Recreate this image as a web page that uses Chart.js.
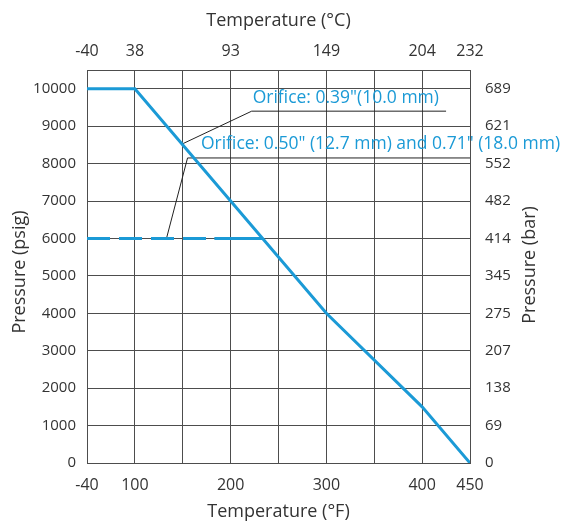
<!DOCTYPE html>
<html>
<head>
<meta charset="utf-8">
<script src="https://cdn.jsdelivr.net/npm/chart.js@4.4.1/dist/chart.umd.min.js"></script>
<style>
  html, body { margin: 0; padding: 0; background: #fff; }
  #wrap { width: 562px; height: 522px; }
</style>
</head>
<body>
<div id="wrap"><canvas id="ratingChart" width="562" height="522"></canvas></div>
<script>
// ===========================
// Pressure / temperature rating chart
// ===========================

// grid columns of the temperature axis (°F), unevenly spaced in value
const gridF = [-40, 100, 150, 200, 250, 300, 350, 400, 450];
const labelsF = ['-40', '100', '', '200', '', '300', '', '400', '450'];
const labelsC = ['-40', '38', '', '93', '', '149', '', '204', '232'];

// pressure ticks (psig) and matching bar labels
const psiTicks = [0, 1000, 2000, 3000, 4000, 5000, 6000, 7000, 8000, 9000, 10000];
const barLabels = ['0', '69', '138', '207', '275', '345', '414', '482', '552', '621', '689'];

// Orifice 0.39" rating line
const smallTempF = [-40, 100, 200, 300, 400, 450];
const smallPsi = [10000, 10000, 7000, 4000, 1500, 0];

// Orifice 0.50" / 0.71" rating line (dashed part then solid)
const largeTempF = [-40, 183, 233];
const largePsi = [6000, 6000, 6000];

// leader lines for the two notes
const leader1TempF = [150, 222, 425];
const leader1Psi = [8530, 9400, 9400];
const leader2TempF = [133, 155, 450];
const leader2Psi = [6000, 8150, 8150];

// note texts
const noteText = ['Orifice: 0.39"(10.0 mm)', 'Orifice: 0.50" (12.7 mm) and 0.71" (18.0 mm)'];
const noteTempF = [223, 169];
const notePsi = [9740, 8510];

const BLUE = '#1b9ad6';
const TEXT = '#333333';
const GRID = '#4d4d4d';
const FONT = '"Open Sans", "Noto Sans", sans-serif';

// map °F onto the evenly spaced grid columns
function toCol(f) {
    for (let i = 0; i < gridF.length - 1; i++) {
        if (f <= gridF[i + 1]) {
            return i + (f - gridF[i]) / (gridF[i + 1] - gridF[i]);
        }
    }
    return gridF.length - 1;
}

function points(temps, vals) {
    return temps.map((f, i) => ({ x: toCol(f), y: vals[i] }));
}

function sideTitle(ctx, text, x, y) {
    ctx.save();
    ctx.fillStyle = TEXT;
    ctx.font = '18px ' + FONT;
    ctx.textAlign = 'center';
    ctx.textBaseline = 'middle';
    ctx.translate(x, y);
    ctx.rotate(-Math.PI / 2);
    ctx.fillText(text, 0, 0);
    ctx.restore();
}

const notesPlugin = {
    id: 'notes',
    afterDatasetsDraw(chart) {
        const ctx = chart.ctx;
        const xs = chart.scales.x;
        const ys = chart.scales.y;
        ctx.save();
        ctx.fillStyle = BLUE;
        ctx.font = '17.5px ' + FONT;
        ctx.textAlign = 'left';
        ctx.textBaseline = 'middle';
        noteText.forEach((t, i) => {
            ctx.fillText(t, xs.getPixelForValue(toCol(noteTempF[i])), ys.getPixelForValue(notePsi[i]));
        });
        ctx.restore();

        // side titles, both reading upwards
        sideTitle(ctx, 'Pressure (psig)', 20, 272);
        sideTitle(ctx, 'Pressure (bar)', 530, 265);
    }
};

const ctx = document.getElementById('ratingChart').getContext('2d');

new Chart(ctx, {
    type: 'line',
    data: {
        datasets: [
            {
                data: points(smallTempF, smallPsi),
                borderColor: BLUE,
                borderWidth: 3,
                pointRadius: 0,
                tension: 0
            },
            {
                data: points(largeTempF, largePsi),
                borderColor: BLUE,
                borderWidth: 3,
                pointRadius: 0,
                tension: 0,
                segment: {
                    borderDash: c => c.p0DataIndex === 0 ? [23, 9] : []
                }
            },
            {
                data: points(leader1TempF, leader1Psi),
                borderColor: '#222',
                borderWidth: 1,
                pointRadius: 0,
                tension: 0
            },
            {
                data: points(leader2TempF, leader2Psi),
                borderColor: '#222',
                borderWidth: 1,
                pointRadius: 0,
                tension: 0
            }
        ]
    },
    options: {
        responsive: false,
        animation: false,
        layout: { padding: 0 },
        plugins: {
            legend: { display: false },
            tooltip: { enabled: false }
        },
        scales: {
            x: {
                type: 'linear',
                position: 'bottom',
                min: 0,
                max: gridF.length - 1,
                afterFit: s => { s.height = 59; },
                ticks: {
                    stepSize: 1,
                    autoSkip: false,
                    maxRotation: 0,
                    padding: 13,
                    color: TEXT,
                    font: { family: FONT, size: 16 },
                    callback: v => labelsF[v]
                },
                grid: { color: GRID, drawTicks: false },
                border: { color: GRID },
                title: {
                    display: true,
                    text: 'Temperature (°F)',
                    color: TEXT,
                    font: { family: FONT, size: 18, lineHeight: 1 },
                    padding: { top: 0, bottom: 1 }
                }
            },
            x2: {
                type: 'linear',
                position: 'top',
                min: 0,
                max: gridF.length - 1,
                afterFit: s => { s.height = 70; },
                ticks: {
                    stepSize: 1,
                    autoSkip: false,
                    maxRotation: 0,
                    padding: 9,
                    color: TEXT,
                    font: { family: FONT, size: 16 },
                    callback: v => labelsC[v]
                },
                grid: { display: false, drawTicks: false },
                border: { color: GRID },
                title: {
                    display: true,
                    text: 'Temperature (°C)',
                    color: TEXT,
                    font: { family: FONT, size: 18, lineHeight: 1 },
                    padding: { top: 12, bottom: 0 }
                }
            },
            y: {
                position: 'left',
                min: 0,
                max: 10500,
                afterFit: s => { s.width = 87; },
                afterBuildTicks: s => { s.ticks = psiTicks.map(v => ({ value: v })); },
                ticks: {
                    padding: 11,
                    color: TEXT,
                    font: { family: FONT, size: 15 },
                    callback: v => String(v)
                },
                grid: { color: GRID, drawTicks: false },
                border: { color: GRID }
            },
            y2: {
                position: 'right',
                min: 0,
                max: 10500,
                afterFit: s => { s.width = 92; },
                afterBuildTicks: s => { s.ticks = psiTicks.map(v => ({ value: v })); },
                ticks: {
                    padding: 15,
                    color: TEXT,
                    font: { family: FONT, size: 15 },
                    callback: v => barLabels[psiTicks.indexOf(v)]
                },
                grid: { display: false, drawTicks: false },
                border: { color: GRID }
            }
        }
    },
    plugins: [notesPlugin]
});
</script>
</body>
</html>
